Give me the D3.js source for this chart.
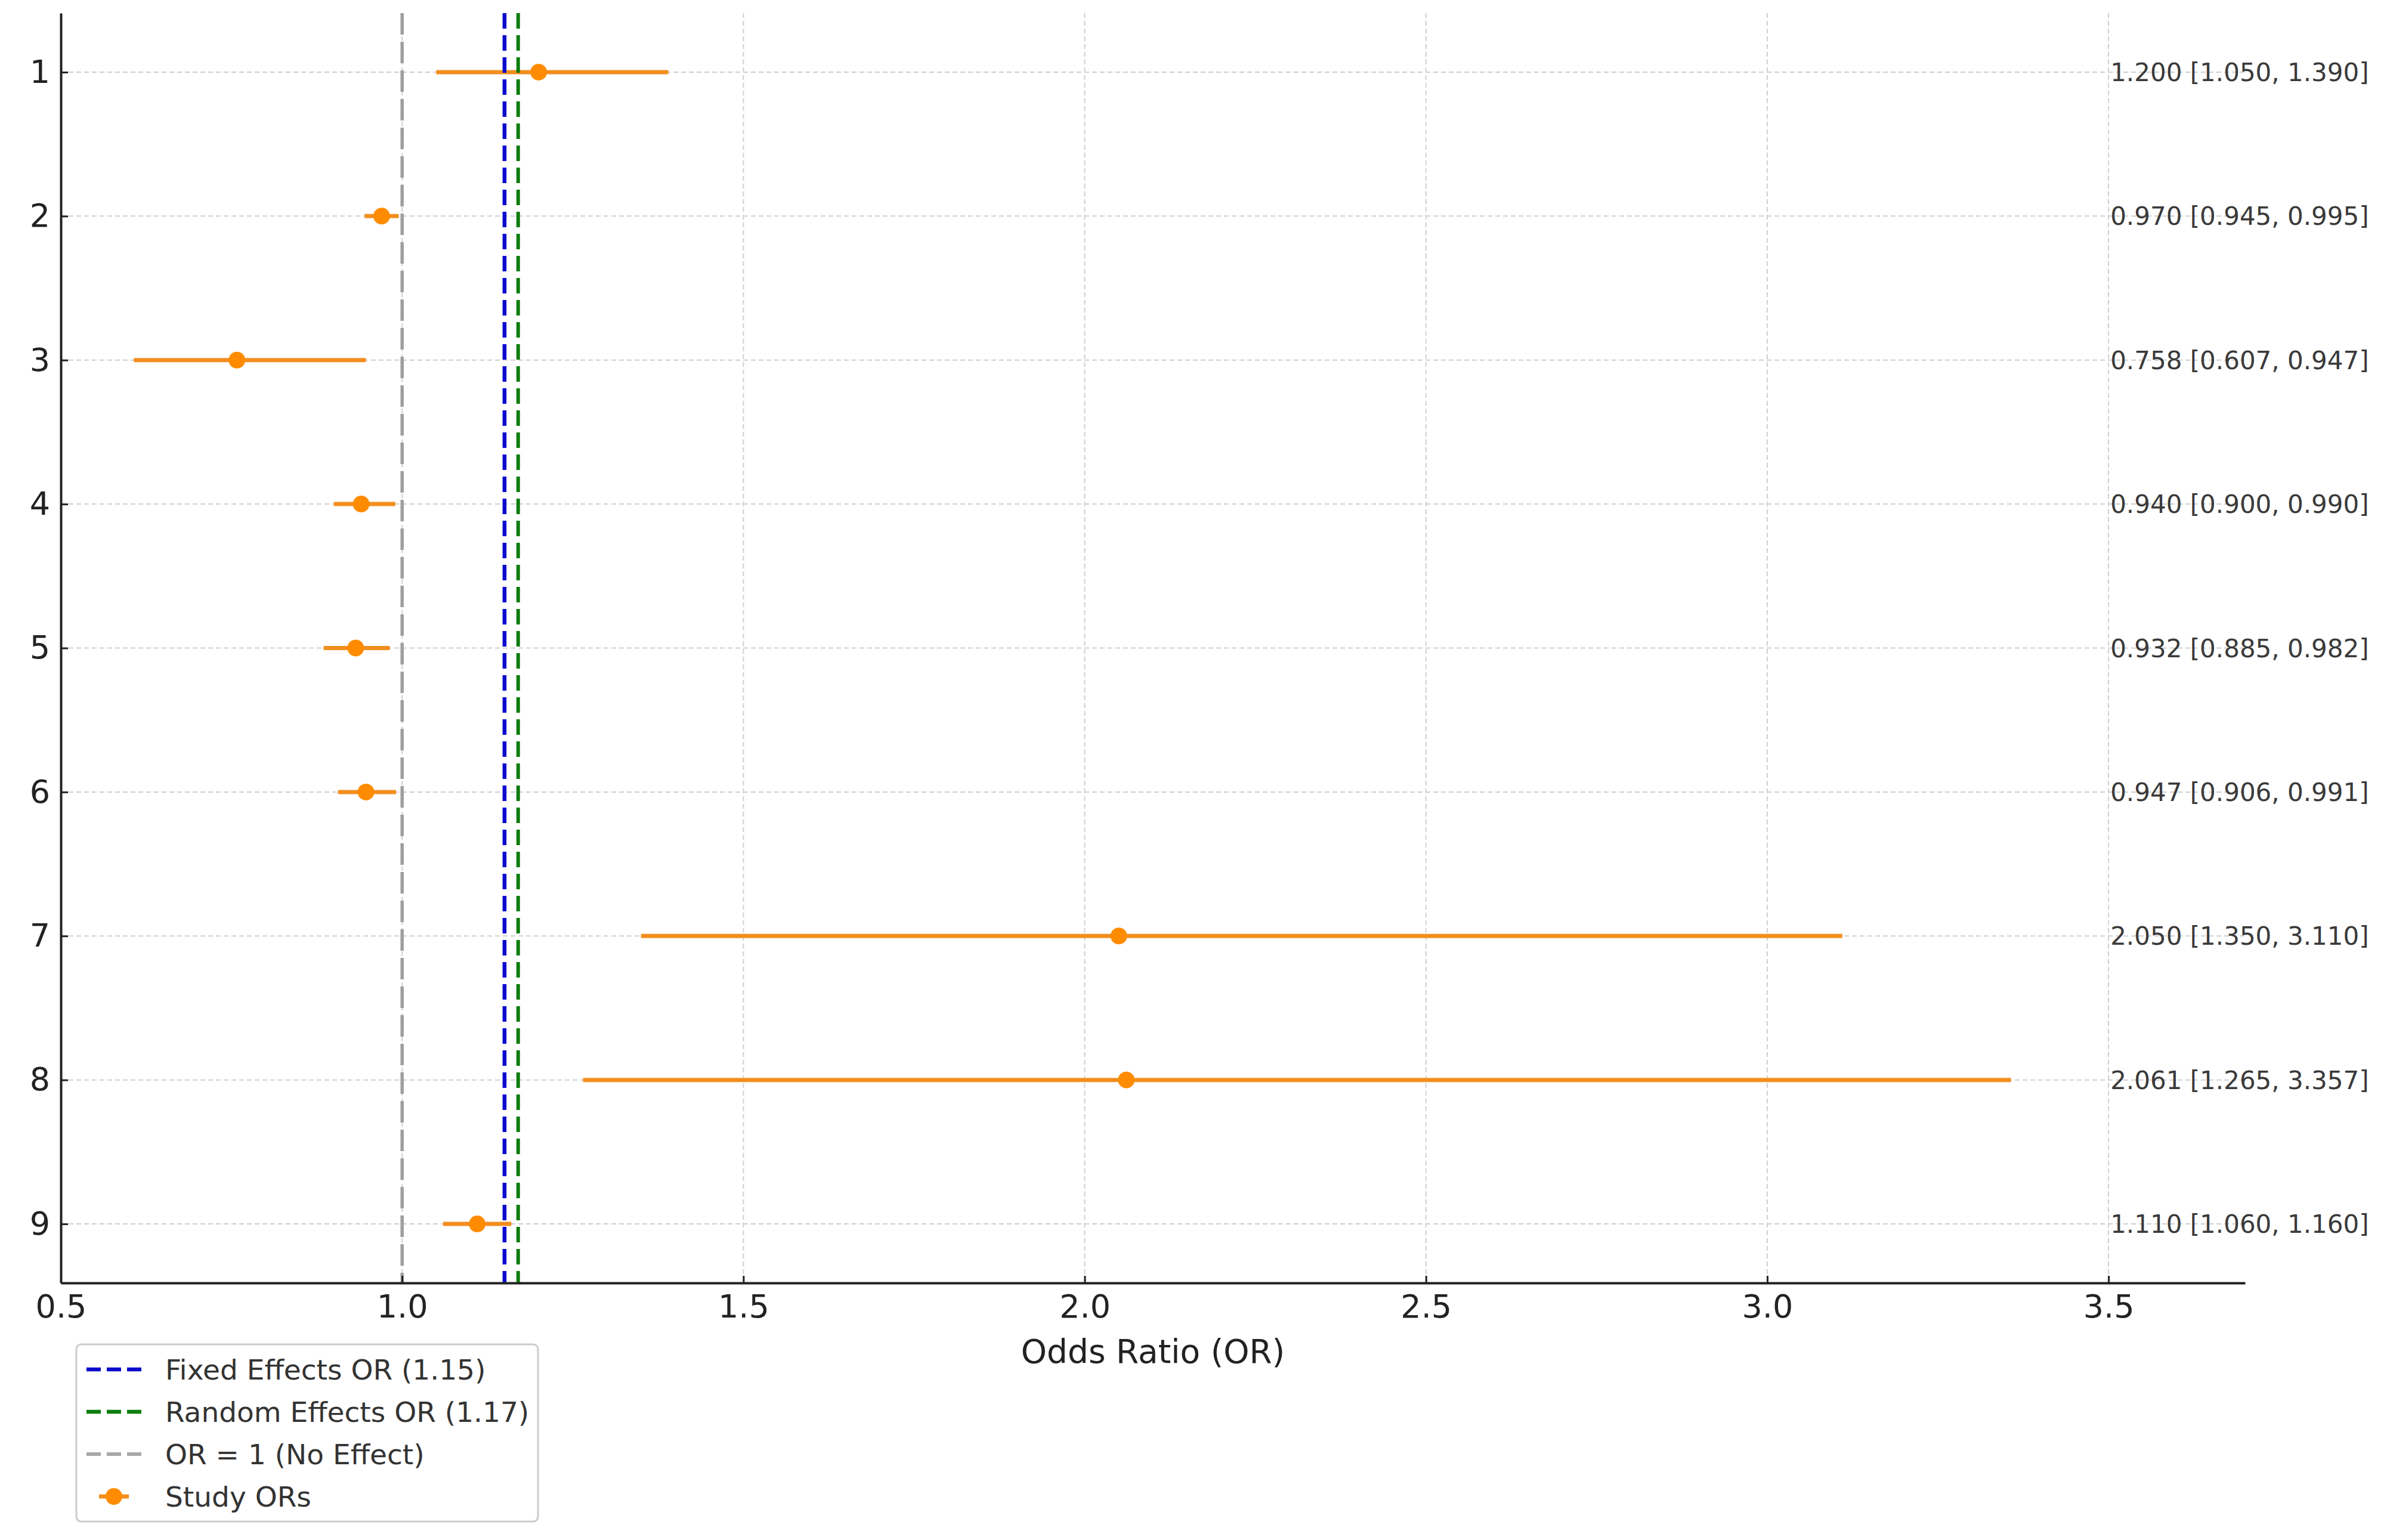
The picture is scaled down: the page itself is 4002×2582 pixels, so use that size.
<!DOCTYPE html>
<html>
<head>
<meta charset="utf-8">
<script src="https://cdn.jsdelivr.net/npm/d3@7"></script>
<style>
  html, body { margin: 0; padding: 0; background: #ffffff; }
  svg { display: block; }
  text { font-family: "DejaVu Sans", sans-serif; }
</style>
</head>
<body>
<script>
// ---------------- data ----------------
const studies = [1, 2, 3, 4, 5, 6, 7, 8, 9];
const oddsRatios = [1.200, 0.970, 0.758, 0.940, 0.932, 0.947, 2.050, 2.061, 1.110];
const lowerCI = [1.050, 0.945, 0.607, 0.900, 0.885, 0.906, 1.350, 1.265, 1.060];
const upperCI = [1.390, 0.995, 0.947, 0.990, 0.982, 0.991, 3.110, 3.357, 1.160];
const fixedOR = 1.15;
const randomOR = 1.17;
const nullOR = 1.0;
const xTickValues = [0.5, 1.0, 1.5, 2.0, 2.5, 3.0, 3.5];
const legendLabels = ["Fixed Effects OR (1.15)", "Random Effects OR (1.17)", "OR = 1 (No Effect)", "Study ORs"];

(function () {
// ---------------- layout ----------------
const W = 4002, H = 2582;
const pLeft = 102, pRight = 3764, pTop = 22, pBottom = 2151;
const orange = "#ff8c00";
const orangeLine = "#f28e1e";

const svg = d3.select("body").append("svg").attr("width", W).attr("height", H);

const x = d3.scaleLinear().domain([0.5, 3.7]).range([pLeft, pRight]);
const y = d3.scaleLinear().domain([0.59, 9.41]).range([pTop, pBottom]);

// grid
const grid = svg.append("g");
grid.selectAll("line.gy").data(studies).join("line").attr("class", "gy")
  .attr("x1", pLeft).attr("x2", pRight)
  .attr("y1", d => y(d)).attr("y2", d => y(d))
  .attr("stroke", "#cfcfcf").attr("stroke-width", 2).attr("stroke-dasharray", "8,5");
grid.selectAll("line.gx").data(xTickValues.filter(v => v > 0.5)).join("line").attr("class", "gx")
  .attr("x1", d => x(d)).attr("x2", d => x(d))
  .attr("y1", pTop).attr("y2", pBottom)
  .attr("stroke", "#cfcfcf").attr("stroke-width", 2).attr("stroke-dasharray", "8,5");

// error bars
const rows = studies.map((s, i) => ({ s, or: oddsRatios[i], lo: lowerCI[i], hi: upperCI[i] }));
const eb = svg.append("g");
eb.selectAll("line").data(rows).join("line")
  .attr("x1", d => x(d.lo)).attr("x2", d => x(d.hi))
  .attr("y1", d => y(d.s)).attr("y2", d => y(d.s))
  .attr("stroke", orangeLine).attr("stroke-width", 7);
eb.selectAll("circle").data(rows).join("circle")
  .attr("cx", d => x(d.or)).attr("cy", d => y(d.s)).attr("r", 14)
  .attr("fill", orange);

// reference lines
const refs = [
  { v: nullOR, color: "#9e9e9e", w: 5.5, dash: "36,12" },
  { v: fixedOR, color: "#0a0acc", w: 6.5, dash: "26,11" },
  { v: randomOR, color: "#0b7d0b", w: 6, dash: "26,11" }
];
svg.append("g").selectAll("line").data(refs).join("line")
  .attr("x1", d => x(d.v)).attr("x2", d => x(d.v))
  .attr("y1", pTop).attr("y2", pBottom)
  .attr("stroke", d => d.color).attr("stroke-width", d => d.w)
  .attr("stroke-dasharray", d => d.dash);

// right-side labels
const fmt3 = d3.format(".3f");
svg.append("g").selectAll("text").data(rows).join("text")
  .attr("x", x(3.5) + 3).attr("y", d => y(d.s)).attr("dy", "0.36em")
  .attr("font-size", 42).attr("fill", "#3a3a3a")
  .text(d => `${fmt3(d.or)} [${fmt3(d.lo)}, ${fmt3(d.hi)}]`);

// axes
const xAxis = d3.axisBottom(x).tickValues(xTickValues).tickFormat(d3.format(".1f"))
  .tickSizeInner(-12).tickSizeOuter(0).tickPadding(20);
const gx = svg.append("g").attr("transform", `translate(0,${pBottom})`).call(xAxis);
gx.select(".domain").attr("stroke", "#222").attr("stroke-width", 4);
gx.selectAll(".tick line").attr("stroke", "#222").attr("stroke-width", 3);
gx.selectAll(".tick text").attr("font-size", 54).attr("fill", "#222")
  .attr("font-family", "DejaVu Sans");

const yAxis = d3.axisLeft(y).tickValues(studies).tickFormat(d3.format("d"))
  .tickSizeInner(-12).tickSizeOuter(0).tickPadding(18);
const gy = svg.append("g").attr("transform", `translate(${pLeft},0)`).call(yAxis);
gy.select(".domain").attr("stroke", "#222").attr("stroke-width", 4);
gy.selectAll(".tick line").attr("stroke", "#222").attr("stroke-width", 3);
gy.selectAll(".tick text").attr("font-size", 54).attr("fill", "#222")
  .attr("font-family", "DejaVu Sans");

// axis label
svg.append("text").attr("x", (pLeft + pRight) / 2).attr("y", 2285)
  .attr("text-anchor", "middle").attr("font-size", 55).attr("fill", "#222")
  .text("Odds Ratio (OR)");

// legend
const lg = svg.append("g");
lg.append("rect").attr("x", 128).attr("y", 2254).attr("width", 774).attr("height", 297)
  .attr("rx", 8).attr("fill", "#ffffff").attr("stroke", "#cccccc").attr("stroke-width", 3);
const legendRows = [
  { label: legendLabels[0], type: "line", color: "#0a0acc", dash: "24,10", w: 6.5 },
  { label: legendLabels[1], type: "line", color: "#0b7d0b", dash: "24,10", w: 6.5 },
  { label: legendLabels[2], type: "line", color: "#a8a8a8", dash: "24,10", w: 6 },
  { label: legendLabels[3], type: "marker" }
];
const ly0 = 2296, ldy = 71;
legendRows.forEach((r, i) => {
  const cy = ly0 + i * ldy;
  if (r.type === "line") {
    lg.append("line").attr("x1", 145).attr("x2", 238).attr("y1", cy).attr("y2", cy)
      .attr("stroke", r.color).attr("stroke-width", r.w).attr("stroke-dasharray", r.dash);
  } else {
    lg.append("line").attr("x1", 166).attr("x2", 216).attr("y1", cy).attr("y2", cy)
      .attr("stroke", orangeLine).attr("stroke-width", 7);
    lg.append("circle").attr("cx", 191).attr("cy", cy).attr("r", 14).attr("fill", orange);
  }
  lg.append("text").attr("x", 277).attr("y", cy).attr("dy", "0.36em")
    .attr("font-size", 47).attr("fill", "#333").text(r.label);
});
})();
</script>
</body>
</html>
